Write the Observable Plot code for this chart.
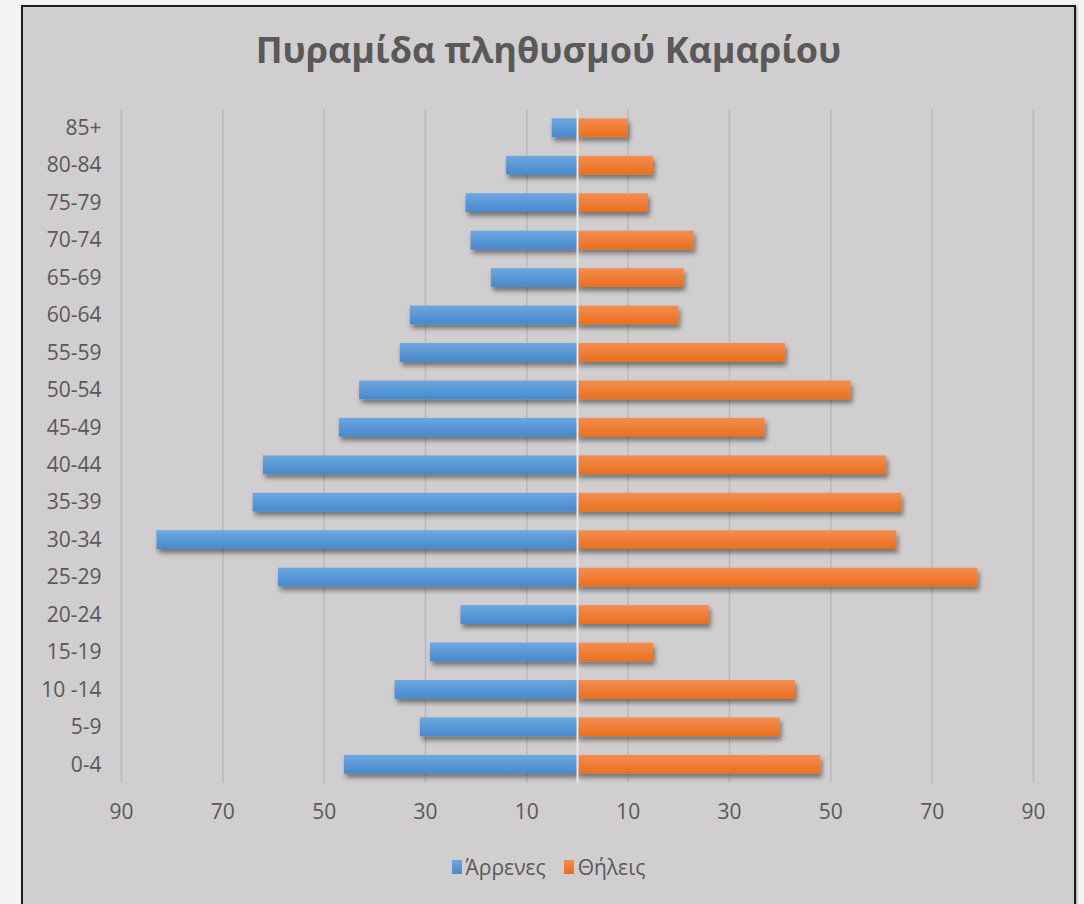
<!DOCTYPE html>
<html>
<head>
<meta charset="utf-8">
<script src="https://cdn.jsdelivr.net/npm/d3@7"></script>
<script src="https://cdn.jsdelivr.net/npm/@observablehq/plot@0.6"></script>
<style>
  body { margin: 0; background: #f2f4f3; font-family: "Open Sans", sans-serif; }
  #frame { position: absolute; left: 21px; top: 5px; width: 1051px; height: 930px;
           border: 2px solid #1c1c1c; background: #d0cecf; overflow: hidden;
           box-shadow: 1px 1px 2px rgba(0,0,0,0.35); }
  #title { box-sizing: border-box; height: 80px; padding-top: 25px; text-align: center;
           font-size: 36px; line-height: 1; font-weight: 700; color: #595959; white-space: nowrap; }
  #chart svg { display: block; }
  #legend { display: flex; justify-content: center; align-items: center; gap: 18px;
            margin-top: 15px; font-size: 21px; color: #595959; line-height: 24px; }
  .item { display: flex; align-items: center; gap: 4px; }
  .sw { width: 10px; height: 14px; display: inline-block; }
</style>
</head>
<body>
<div id="frame">
  <div id="title">Πυραμίδα πληθυσμού Καμαρίου</div>
  <div id="chart"></div>
  <div id="legend"></div>
</div>
<script>
const ages = ["0-4","5-9","10 -14","15-19","20-24","25-29","30-34","35-39","40-44","45-49","50-54","55-59","60-64","65-69","70-74","75-79","80-84","85+"];
const male = [46,31,36,29,23,59,83,64,62,47,43,35,33,17,21,22,14,5];
const female = [48,40,43,15,26,79,63,64,61,37,54,41,20,21,23,14,15,10];
const xTicks = [-90,-70,-50,-30,-10,10,30,50,70,90];
const seriesNames = ["Άρρενες","Θήλεις"];
const seriesTop = ["#6da7e0","#f38d52"];
const seriesBottom = ["#4689cd","#eb6f1c"];

const rows = ages.map((a, i) => ({age: a, male: male[i], female: female[i]}));

const plot = Plot.plot({
  width: 1051,
  height: 753,
  marginLeft: 98,
  marginRight: 41,
  marginTop: 22,
  marginBottom: 57,
  style: {background: "transparent", fontFamily: "Open Sans", fontSize: "21px", color: "#595959", overflow: "visible"},
  x: {domain: [-90, 90], ticks: xTicks, tickFormat: d => Math.abs(d), label: null, tickSize: 0, tickPadding: 21},
  y: {domain: ages.slice().reverse(), label: null, tickSize: 0, tickPadding: 20, paddingInner: 0.5, paddingOuter: 0.25, round: false},
  marks: [
    Plot.ruleX(xTicks, {stroke: "#bab8b9", strokeWidth: 1.5}),
    Plot.barX(rows, {y: "age", x1: 0, x2: d => -d.male, fill: "url(#gBlue)"}),
    Plot.barX(rows, {y: "age", x1: 0, x2: "female", fill: "url(#gOrange)", insetLeft: 1}),
    Plot.ruleX([0], {stroke: "#e9e9e9", strokeWidth: 2})
  ]
});

const svg = d3.select(plot);
const defs = svg.insert("defs", ":first-child");
[["gBlue", 0], ["gOrange", 1]].forEach(([id, k]) => {
  const g = defs.append("linearGradient").attr("id", id).attr("x1", 0).attr("y1", 0).attr("x2", 0).attr("y2", 1);
  g.append("stop").attr("offset", "0%").attr("stop-color", seriesTop[k]);
  g.append("stop").attr("offset", "100%").attr("stop-color", seriesBottom[k]);
});
const f = defs.append("filter").attr("id", "shadow").attr("x", "-5%").attr("y", "-30%").attr("width", "115%").attr("height", "190%");
f.append("feDropShadow").attr("dx", 2).attr("dy", 4).attr("stdDeviation", 2.5)
  .attr("flood-color", "#000").attr("flood-opacity", 0.45);
svg.selectAll('g[aria-label="bar"]').attr("filter", "url(#shadow)");

document.getElementById("chart").appendChild(plot);

const legend = document.getElementById("legend");
seriesNames.forEach((name, i) => {
  const it = document.createElement("span");
  it.className = "item";
  const sw = document.createElement("span");
  sw.className = "sw";
  sw.style.background = `linear-gradient(${seriesTop[i]}, ${seriesBottom[i]})`;
  const t = document.createElement("span");
  t.textContent = name;
  it.appendChild(sw); it.appendChild(t);
  legend.appendChild(it);
});
</script>
</body>
</html>
